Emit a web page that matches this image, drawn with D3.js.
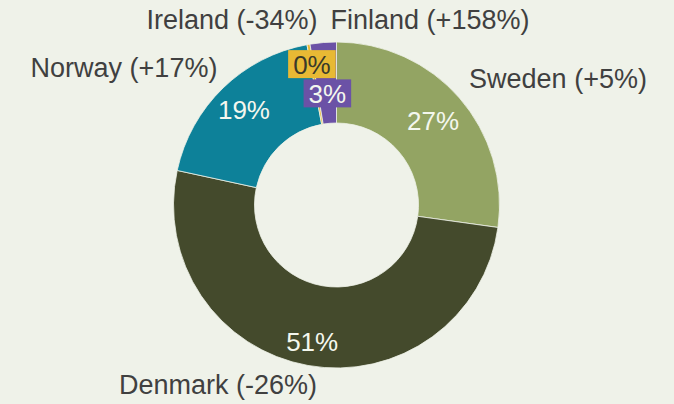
<!DOCTYPE html>
<html>
<head>
<meta charset="utf-8">
<script src="https://cdn.jsdelivr.net/npm/d3@7"></script>
<style>
  html, body { margin: 0; padding: 0; background: #eff2e9; }
  svg { display: block; }
  text { font-family: "Liberation Sans", Arial, sans-serif; }
</style>
</head>
<body>
<svg id="chart" width="674" height="404"></svg>
<script>
// ---- data ----
const countries = ["Sweden", "Denmark", "Norway", "Ireland", "Finland"];
const shares = [27.2, 51.2, 18.7, 0.3, 2.6];          // share of total, %
const changes = ["+5%", "-26%", "+17%", "-34%", "+158%"]; // change shown in label
const colors = ["#93a463", "#444a2c", "#0d8199", "#e8b934", "#6b52a6"];

// ---- layout ----
const W = 674, H = 404;
const cx = 336.5, cy = 205;
const outerR = 163, innerR = 82;
const labelR = [128, 139, 133, 143, 112];
const boxed = [false, false, false, true, true];
const insideTextColor = ["#f4f7ee", "#f4f7ee", "#f4f7ee", "#3a3a2a", "#f4f7ee"];
const outerLabelPos = [[558, 88], [218, 394], [124, 77], [232, 29], [430, 29]];

const svg = d3.select("#chart");
svg.append("rect").attr("width", W).attr("height", H).attr("fill", "#eff2e9");

const g = svg.append("g").attr("transform", `translate(${cx},${cy})`);

const pie = d3.pie().sort(null).value(d => d.v);
const data = countries.map((c, i) => ({ name: c, v: shares[i], i }));
const arcs = pie(data);

const arc = d3.arc().innerRadius(innerR).outerRadius(outerR);

g.selectAll("path.slice")
  .data(arcs)
  .enter().append("path")
  .attr("class", "slice")
  .attr("d", arc)
  .attr("fill", d => colors[d.data.i])
  .attr("stroke", "#eff2e9")
  .attr("stroke-width", 0.8);

// inside percentage labels
const fmt = v => Math.round(v) + "%";
arcs.forEach(d => {
  const i = d.data.i;
  const la = d3.arc().innerRadius(labelR[i]).outerRadius(labelR[i]);
  const [x, y] = la.centroid(d);
  const lg = g.append("g").attr("transform", `translate(${x},${y})`);
  const t = lg.append("text")
    .attr("text-anchor", "middle")
    .attr("dy", "0.36em")
    .attr("font-size", 26)
    .attr("fill", insideTextColor[i])
    .text(fmt(d.data.v));
  if (boxed[i]) {
    const bb = t.node().getBBox();
    lg.insert("rect", "text")
      .attr("x", bb.x - 5)
      .attr("y", -14)
      .attr("width", bb.width + 10)
      .attr("height", 28)
      .attr("fill", colors[i]);
  }
});

// outer category labels
countries.forEach((c, i) => {
  svg.append("text")
    .attr("x", outerLabelPos[i][0])
    .attr("y", outerLabelPos[i][1])
    .attr("text-anchor", "middle")
    .attr("font-size", 27)
    .attr("fill", "#404040")
    .text(`${c} (${changes[i]})`);
});
</script>
</body>
</html>
